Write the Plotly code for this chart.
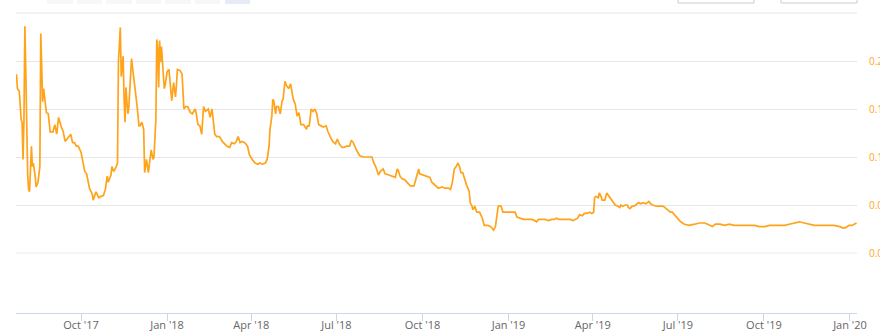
import plotly.graph_objects as go

dates = [
"2017-07-24","2017-07-25","2017-07-27","2017-07-29","2017-07-30","2017-07-31","2017-08-01","2017-08-02","2017-08-03","2017-08-04",
"2017-08-05","2017-08-06","2017-08-07","2017-08-08","2017-08-09","2017-08-10","2017-08-11","2017-08-13","2017-08-14","2017-08-16",
"2017-08-18","2017-08-19","2017-08-20","2017-08-21","2017-08-22","2017-08-25","2017-08-27","2017-08-29","2017-09-01","2017-09-03",
"2017-09-05","2017-09-07","2017-09-10","2017-09-12","2017-09-14","2017-09-17","2017-09-20","2017-09-22","2017-09-24","2017-09-26",
"2017-09-28","2017-10-01","2017-10-05","2017-10-07","2017-10-10","2017-10-13","2017-10-14","2017-10-17","2017-10-20","2017-10-22",
"2017-10-25","2017-10-27","2017-10-29","2017-10-30","2017-11-02","2017-11-03","2017-11-05","2017-11-07","2017-11-09","2017-11-10",
"2017-11-11","2017-11-12","2017-11-13","2017-11-14","2017-11-15","2017-11-16","2017-11-17","2017-11-18","2017-11-19","2017-11-20",
"2017-11-21","2017-11-22","2017-11-23","2017-11-24","2017-11-25","2017-11-26","2017-11-28","2017-11-30","2017-12-02","2017-12-03",
"2017-12-05","2017-12-07","2017-12-08","2017-12-10","2017-12-12","2017-12-13","2017-12-15","2017-12-17","2017-12-18","2017-12-20",
"2017-12-21","2017-12-22","2017-12-23","2017-12-24","2017-12-25","2017-12-26","2017-12-27","2017-12-28","2017-12-29","2017-12-30",
"2017-12-31","2018-01-01","2018-01-03","2018-01-05","2018-01-06","2018-01-08","2018-01-10","2018-01-11","2018-01-12","2018-01-15",
"2018-01-17","2018-01-19","2018-01-21","2018-01-23","2018-01-26","2018-01-28","2018-01-31","2018-02-01","2018-02-03","2018-02-05",
"2018-02-07","2018-02-09","2018-02-11","2018-02-14","2018-02-16","2018-02-18","2018-02-19","2018-02-21","2018-02-23","2018-02-26",
"2018-03-01","2018-03-03","2018-03-06","2018-03-09","2018-03-11","2018-03-14","2018-03-16","2018-03-18","2018-03-20","2018-03-22",
"2018-03-25","2018-03-28","2018-03-30","2018-04-02","2018-04-05","2018-04-08","2018-04-10","2018-04-13","2018-04-16","2018-04-18",
"2018-04-20","2018-04-21","2018-04-23","2018-04-24","2018-04-25","2018-04-27","2018-04-28","2018-04-30","2018-05-02","2018-05-04",
"2018-05-05","2018-05-07","2018-05-09","2018-05-11","2018-05-13","2018-05-15","2018-05-16","2018-05-18","2018-05-20","2018-05-22",
"2018-05-24","2018-05-27","2018-05-30","2018-05-31","2018-06-02","2018-06-04","2018-06-06","2018-06-08","2018-06-10","2018-06-12",
"2018-06-14","2018-06-17","2018-06-20","2018-06-22","2018-06-25","2018-06-27","2018-06-30","2018-07-02","2018-07-04","2018-07-07",
"2018-07-09","2018-07-12","2018-07-15","2018-07-17","2018-07-19","2018-07-21","2018-07-23","2018-07-26","2018-07-30","2018-08-02",
"2018-08-06","2018-08-08","2018-08-10","2018-08-12","2018-08-15","2018-08-17","2018-08-20","2018-08-22","2018-08-26","2018-08-29",
"2018-09-02","2018-09-04","2018-09-05","2018-09-07","2018-09-09","2018-09-12","2018-09-18","2018-09-22","2018-09-24","2018-09-27",
"2018-09-28","2018-10-02","2018-10-05","2018-10-09","2018-10-11","2018-10-14","2018-10-18","2018-10-22","2018-10-25","2018-10-29",
"2018-10-31","2018-11-02","2018-11-04","2018-11-06","2018-11-08","2018-11-10","2018-11-11","2018-11-13","2018-11-15","2018-11-17",
"2018-11-20","2018-11-21","2018-11-23","2018-11-24","2018-11-26","2018-11-28","2018-12-01","2018-12-04","2018-12-06","2018-12-08",
"2018-12-10","2018-12-13","2018-12-15","2018-12-16","2018-12-18","2018-12-19","2018-12-21","2018-12-24","2018-12-26","2018-12-28",
"2018-12-30","2019-01-01","2019-01-04","2019-01-08","2019-01-10","2019-01-13","2019-01-17","2019-01-21","2019-01-23","2019-01-26",
"2019-01-29","2019-01-31","2019-02-02","2019-02-06","2019-02-09","2019-02-13","2019-02-16","2019-02-19","2019-02-21","2019-02-24",
"2019-02-28","2019-03-04","2019-03-08","2019-03-11","2019-03-14","2019-03-16","2019-03-18","2019-03-21","2019-03-23","2019-03-26",
"2019-03-29","2019-03-31","2019-04-02","2019-04-03","2019-04-04","2019-04-05","2019-04-07","2019-04-08","2019-04-10","2019-04-11",
"2019-04-13","2019-04-14","2019-04-16","2019-04-18","2019-04-20","2019-04-23","2019-04-25","2019-04-28","2019-04-30","2019-05-01",
"2019-05-03","2019-05-06","2019-05-08","2019-05-09","2019-05-11","2019-05-13","2019-05-15","2019-05-17","2019-05-20","2019-05-22",
"2019-05-25","2019-05-28","2019-05-31","2019-06-02","2019-06-04","2019-06-08","2019-06-11","2019-06-15","2019-06-17","2019-06-20",
"2019-06-23","2019-06-25","2019-06-28","2019-07-01","2019-07-04","2019-07-08","2019-07-13","2019-07-19","2019-07-24","2019-07-30",
"2019-08-04","2019-08-07","2019-08-10","2019-08-15","2019-08-20","2019-08-25","2019-08-30","2019-09-05","2019-09-10","2019-09-15",
"2019-09-21","2019-09-26","2019-10-02","2019-10-07","2019-10-12","2019-10-18","2019-10-23","2019-10-28","2019-11-03","2019-11-08",
"2019-11-13","2019-11-18","2019-11-24","2019-11-29","2019-12-05","2019-12-10","2019-12-15","2019-12-21","2019-12-24","2019-12-27",
"2019-12-31","2020-01-03","2020-01-06","2020-01-08",
]

prices = [
0.189,0.177,0.175,0.151,0.149,0.118,0.150,0.229,0.190,0.140,
0.105,0.093,0.091,0.110,0.129,0.112,0.115,0.104,0.095,0.099,
0.112,0.223,0.179,0.166,0.177,0.157,0.156,0.141,0.141,0.147,
0.139,0.153,0.145,0.141,0.133,0.136,0.139,0.132,0.132,0.129,
0.129,0.124,0.108,0.106,0.094,0.089,0.084,0.091,0.086,0.087,
0.088,0.093,0.104,0.099,0.105,0.112,0.108,0.111,0.115,0.199,
0.215,0.228,0.187,0.195,0.204,0.170,0.149,0.178,0.165,0.156,
0.160,0.177,0.190,0.202,0.195,0.189,0.179,0.162,0.146,0.146,
0.149,0.143,0.107,0.118,0.107,0.114,0.126,0.118,0.120,0.151,
0.218,0.210,0.178,0.217,0.199,0.212,0.200,0.187,0.177,0.180,
0.185,0.191,0.193,0.171,0.167,0.182,0.170,0.180,0.193,0.192,
0.189,0.160,0.162,0.162,0.157,0.156,0.160,0.157,0.147,0.146,
0.139,0.162,0.158,0.160,0.153,0.160,0.151,0.139,0.137,0.137,
0.133,0.131,0.129,0.128,0.132,0.131,0.133,0.137,0.132,0.133,
0.132,0.129,0.122,0.118,0.115,0.114,0.115,0.114,0.115,0.118,
0.129,0.143,0.154,0.168,0.167,0.156,0.162,0.162,0.156,0.167,
0.168,0.183,0.179,0.177,0.181,0.172,0.168,0.164,0.154,0.157,
0.147,0.147,0.143,0.146,0.146,0.160,0.158,0.160,0.156,0.147,
0.146,0.145,0.146,0.141,0.136,0.133,0.131,0.135,0.131,0.128,
0.128,0.129,0.129,0.134,0.132,0.128,0.125,0.121,0.120,0.120,
0.120,0.120,0.115,0.112,0.105,0.108,0.110,0.106,0.105,0.104,
0.103,0.110,0.109,0.104,0.102,0.101,0.096,0.096,0.101,0.110,
0.106,0.105,0.104,0.103,0.099,0.097,0.094,0.095,0.094,0.094,
0.093,0.099,0.110,0.112,0.115,0.111,0.107,0.107,0.101,0.097,
0.091,0.082,0.079,0.076,0.079,0.074,0.074,0.069,0.063,0.063,
0.063,0.062,0.060,0.059,0.062,0.068,0.079,0.079,0.074,0.074,
0.074,0.074,0.074,0.074,0.070,0.069,0.068,0.068,0.068,0.068,
0.067,0.066,0.068,0.068,0.068,0.067,0.068,0.068,0.069,0.068,
0.068,0.068,0.068,0.067,0.068,0.069,0.072,0.071,0.073,0.073,
0.074,0.073,0.074,0.086,0.087,0.087,0.086,0.090,0.087,0.084,
0.084,0.084,0.090,0.088,0.085,0.083,0.080,0.079,0.078,0.080,
0.079,0.080,0.080,0.078,0.077,0.079,0.079,0.080,0.082,0.081,
0.082,0.081,0.083,0.081,0.080,0.079,0.079,0.079,0.078,0.076,
0.074,0.074,0.071,0.068,0.066,0.064,0.063,0.064,0.065,0.065,
0.063,0.062,0.064,0.064,0.063,0.064,0.063,0.063,0.063,0.063,
0.063,0.062,0.062,0.063,0.063,0.063,0.063,0.064,0.065,0.066,
0.065,0.064,0.063,0.063,0.063,0.063,0.063,0.062,0.061,0.061,
0.063,0.063,0.064,0.065,
]

y_ticks = [0.04, 0.08, 0.12, 0.16, 0.20]
y_range = [0.04, 0.24]
x_range = ["2017-07-23 12:00", "2020-01-08 12:00"]

W, H = 880, 334
ML, MR, MT, MB = 16, 23, 13, 21
PW, PH = W - ML - MR, H - MT - MB

def px(x):
    return (x - ML) / PW

def py(y):
    return (H - MB - y) / PH

ORANGE = "#ffa31a"

fig = go.Figure()
fig.add_trace(go.Scatter(
    x=dates, y=prices, mode="lines",
    line=dict(color=ORANGE, width=1.7),
    hoverinfo="skip", showlegend=False,
))

shapes = []
# top gridline
shapes.append(dict(type="line", xref="paper", yref="paper", x0=0, x1=1, y0=1, y1=1,
                   line=dict(color="#e6e6e6", width=1)))
# bottom gridline of the price pane (bluish, like the axis)
shapes.append(dict(type="line", xref="paper", yref="paper", x0=0, x1=1,
                   y0=py(253), y1=py(253), line=dict(color="#e6e9f2", width=1)))
# range selector buttons (cut off at top)
btns = [(47, 73), (77, 102), (106, 132), (136, 161), (165, 191), (195, 220), (225, 250)]
for i, (a, b) in enumerate(btns):
    shapes.append(dict(type="rect", xref="paper", yref="paper",
                       x0=px(a), x1=px(b), y0=py(4), y1=py(-20),
                       fillcolor="#e6ebf5" if i == len(btns) - 1 else "#f7f7f7",
                       line=dict(width=0), layer="above"))
# date input boxes
for a, b in [(678, 754), (781, 857)]:
    shapes.append(dict(type="rect", xref="paper", yref="paper",
                       x0=px(a), x1=px(b), y0=py(3), y1=py(-20),
                       fillcolor="#ffffff",
                       line=dict(color="#cccccc", width=1), layer="above"))

fig.update_layout(
    width=W, height=H,
    margin=dict(l=ML, r=MR, t=MT, b=MB, pad=0),
    paper_bgcolor="white", plot_bgcolor="white",
    shapes=shapes,
    xaxis=dict(
        range=x_range, type="date",
        tick0="2017-10-01", dtick="M3", tickformat="%b '%y",
        showgrid=False, zeroline=False,
        showline=True, linecolor="#ccd6eb", linewidth=1,
        ticks="outside", ticklen=7, tickcolor="#ccd6eb", tickwidth=1,
        ticklabelstandoff=-5,
        tickfont=dict(family="Open Sans, Arial, sans-serif", size=11, color="#666666"),
        anchor="free", position=0, automargin=False,
    ),
    yaxis=dict(
        domain=[py(253), 1], range=y_range,
        tickvals=y_ticks, tickformat=".2f",
        side="right", showgrid=True, gridcolor="#e6e6e6", gridwidth=1,
        zeroline=False, showline=False, ticks="",
        ticklabelstandoff=11,
        tickfont=dict(family="Open Sans, Arial, sans-serif", size=10, color=ORANGE),
        automargin=False,
    ),
)

fig.write_html("out.html")
